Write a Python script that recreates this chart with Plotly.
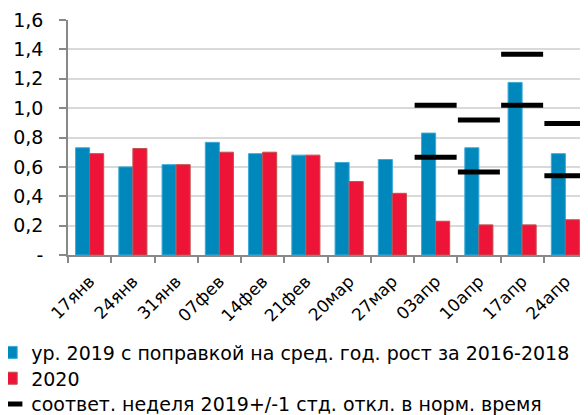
import plotly.graph_objects as go

categories = ["17янв", "24янв", "31янв", "07фев", "14фев", "21фев",
              "20мар", "27мар", "03апр", "10апр", "17апр", "24апр"]
blue_2019 = [0.73, 0.60, 0.615, 0.767, 0.69, 0.68, 0.63, 0.65, 0.83, 0.73, 1.175, 0.69]
red_2020 = [0.69, 0.725, 0.615, 0.70, 0.70, 0.68, 0.50, 0.42, 0.23, 0.205, 0.205, 0.24]
upper_sd = [None] * 8 + [1.02, 0.92, 1.366, 0.895]
lower_sd = [None] * 8 + [0.665, 0.565, 1.02, 0.54]
ytick_vals = [0, 0.2, 0.4, 0.6, 0.8, 1.0, 1.2, 1.4, 1.6]
ytick_text = ["-", "0,2", "0,4", "0,6", "0,8", "1,0", "1,2", "1,4", "1,6"]

names = ["ур. 2019 с поправкой на сред. год. рост за 2016-2018",
         "2020",
         "соответ. неделя 2019+/-1 стд. откл. в норм. время"]

FONT = "DejaVu Sans, Liberation Sans, Arial, sans-serif"

fig = go.Figure()
fig.add_trace(go.Bar(x=categories, y=blue_2019, name=names[0], legend="legend",
                     marker=dict(color="#0088BC", line=dict(color="#3AAAD8", width=1))))
fig.add_trace(go.Bar(x=categories, y=red_2020, name=names[1], legend="legend2",
                     marker=dict(color="#EE1437", line=dict(color="#C0504D", width=1))))
fig.add_trace(go.Scatter(x=categories, y=upper_sd, mode="markers", name=names[2],
                         legend="legend3",
                         marker=dict(symbol="line-ew-open", size=30, color="black",
                                     line=dict(color="black", width=5))))
fig.add_trace(go.Scatter(x=categories, y=lower_sd, mode="markers", showlegend=False,
                         marker=dict(symbol="line-ew-open", size=30, color="black",
                                     line=dict(color="black", width=5))))

# page has an 8px body margin: shift layout accordingly
legend_common = dict(orientation="v", x=-0.148, xanchor="left", yanchor="middle",
                     font=dict(size=19, family=FONT), itemwidth=30,
                     bgcolor="rgba(0,0,0,0)")

fig.update_layout(
    width=588, height=415,
    margin=dict(l=60, r=9, t=12, b=168, autoexpand=False),
    paper_bgcolor="white", plot_bgcolor="white",
    barmode="group", bargap=0.35, bargroupgap=0,
    font=dict(family=FONT, size=18, color="black"),
    showlegend=True,
    legend=dict(legend_common, y=-0.415),
    legend2=dict(legend_common, y=-0.525),
    legend3=dict(legend_common, y=-0.635),
)
fig.update_xaxes(
    type="category", range=[-0.5, len(categories) - 0.5],
    tickangle=-45, tickson="boundaries",
    ticks="outside", ticklen=6, tickcolor="#888888", tickwidth=1.5,
    showline=True, linecolor="#888888", linewidth=1.5,
    showgrid=False, tickfont=dict(size=17), automargin=False,
    ticklabelstandoff=8,
)
fig.update_yaxes(
    range=[0, 1.6], tickvals=ytick_vals, ticktext=ytick_text,
    ticks="outside", ticklen=7, tickcolor="#888888", tickwidth=1.5,
    showline=True, linecolor="#888888", linewidth=1.5,
    showgrid=True, gridcolor="#D9D9D9", gridwidth=1.5,
    zeroline=False, tickfont=dict(size=19), ticklabelstandoff=12,
    automargin=False,
)

fig.write_html("out.html")
